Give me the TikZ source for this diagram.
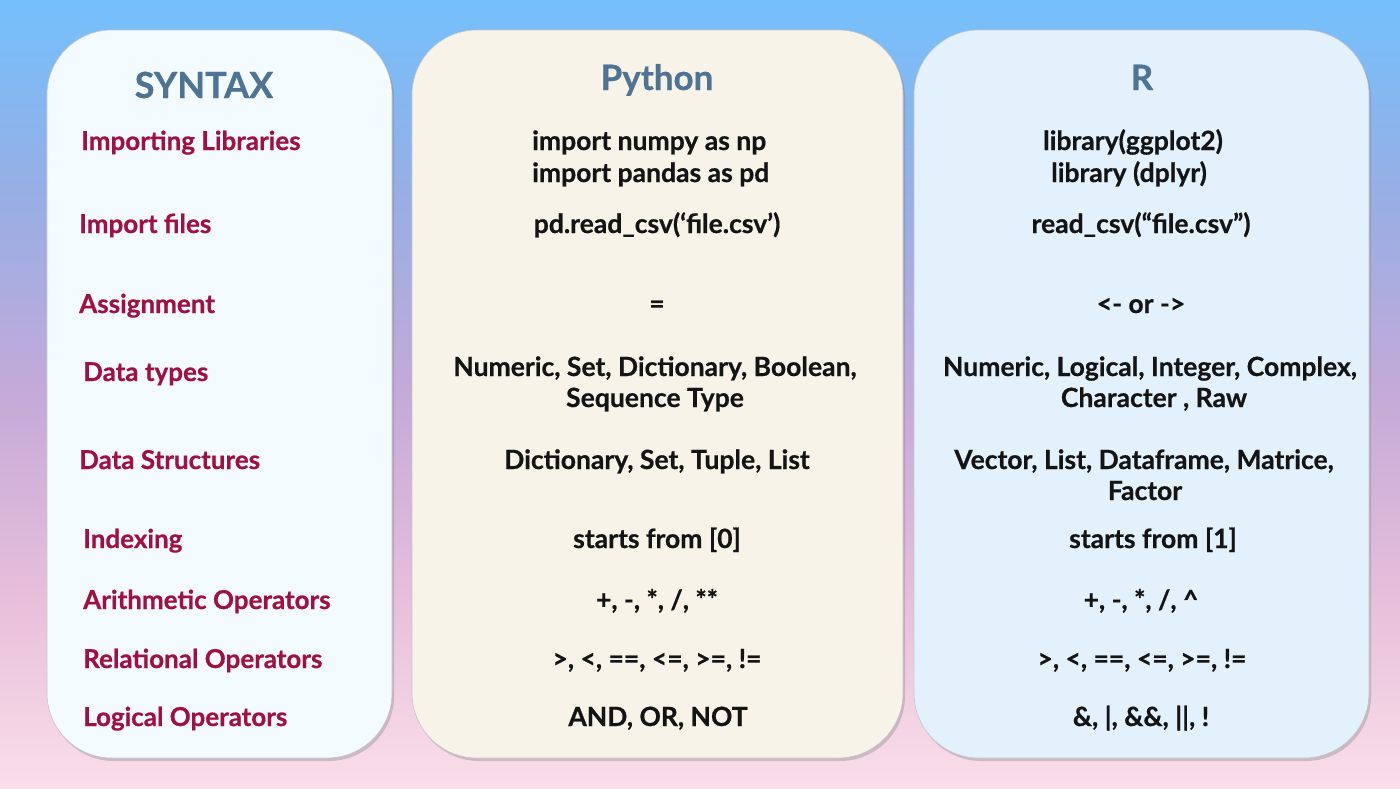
\documentclass[tikz,border=0pt]{standalone}
\usepackage{fontspec}
\setmainfont{Lato}[BoldFeatures={FakeBold=0.6}]
\usepackage{tikz}
\usetikzlibrary{shadows}

\definecolor{bgtop}{RGB}{116,192,252}
\definecolor{bghigh}{RGB}{152,174,228}
\definecolor{bgmid}{RGB}{196,170,216}
\definecolor{bglow}{RGB}{230,190,218}
\definecolor{bgbot}{RGB}{250,222,233}
\definecolor{headblue}{RGB}{79,115,147}
\definecolor{lblred}{RGB}{160,16,64}
\definecolor{syntaxfill}{RGB}{244,251,255}
\definecolor{pyfill}{RGB}{247,243,233}
\definecolor{rfill}{RGB}{227,241,253}

\pgfdeclareverticalshading{bgfade}{100bp}{color(0bp)=(bgbot); color(25bp)=(bgbot); color(37.5bp)=(bglow); color(50bp)=(bgmid); color(62.5bp)=(bghigh); color(75bp)=(bgtop); color(100bp)=(bgtop)}

\tikzset{
  panel/.style={rounded corners=65pt, draw=black!22, line width=0.6pt,
    drop shadow={shadow xshift=2pt, shadow yshift=-3pt, opacity=0.35}},
  head/.style={anchor=base, inner sep=0pt, text=headblue, font=\fontsize{35}{40}\selectfont\bfseries},
  lbl/.style={anchor=base west, inner sep=0pt, text=lblred, font=\fontsize{26}{30}\selectfont\bfseries},
  cell/.style={anchor=base, inner sep=0pt, text=black!92, font=\fontsize{26.5}{30}\selectfont\bfseries}
}

\begin{document}
\begin{tikzpicture}[x=1pt, y=-1pt]
\useasboundingbox (0,0) rectangle (1400,788);
\shade[shading=bgfade] (0,0) rectangle (1400,788);

\draw[panel, fill=syntaxfill] (47,30) rectangle (392,758);
\draw[panel, fill=pyfill] (412,30) rectangle (903,758);
\draw[panel, fill=rfill] (914,30) rectangle (1369,758);

\node[head, font=\fontsize{36}{40}\selectfont\bfseries] (syntaxhead) at (204,98) {SYNTAX};
\node[head] (pyhead) at (657,90) {Python};
\node[head] (rhead) at (1142,90) {R};

\node[lbl] (lblimport) at (81,150) {Importing Libraries};
\node[lbl] (lblfiles) at (79,233) {Import files};
\node[lbl] (lblassign) at (79,313) {Assignment};
\node[lbl] (lbltypes) at (83,381) {Data types};
\node[lbl] (lblstruct) at (79,469) {Data Structures};
\node[lbl] (lblindex) at (83,548) {Indexing};
\node[lbl] (lblarith) at (83,609) {Arithmetic Operators};
\node[lbl] (lblrel) at (83,668) {Relational Operators};
\node[lbl] (lbllogic) at (83,726) {Logical Operators};

\node[cell, anchor=base west] (pyimporta) at (532,150) {import numpy as np};
\node[cell, anchor=base west] (pyimportb) at (532,182) {import pandas as pd};
\node[cell] (pyfiles) at (657,233) {pd.read\_csv(‘file.csv’)};
\node[cell] (pyassign) at (657,313) {=};
\node[cell] (pytypesa) at (655,376) {Numeric, Set, Dictionary, Boolean,};
\node[cell] (pytypesb) at (655,407) {Sequence Type};
\node[cell] (pystruct) at (657,469) {Dictionary, Set, Tuple, List};
\node[cell] (pyindex) at (657,548) {starts from [0]};
\node[cell] (pyarith) at (657,609) {+, -, *, /, **};
\node[cell] (pyrel) at (657,668) {>, <, ==, <=, >=, !=};
\node[cell] (pylogic) at (658,726) {AND, OR, NOT};

\node[cell] (rimporta) at (1133,150) {library(ggplot2)};
\node[cell] (rimportb) at (1129,182) {library (dplyr)};
\node[cell] (rfiles) at (1141,233) {read\_csv(“file.csv”)};
\node[cell] (rassign) at (1141,313) {<- or ->};
\node[cell] (rtypesa) at (1150,376) {Numeric, Logical, Integer, Complex,};
\node[cell] (rtypesb) at (1154,407) {Character , Raw};
\node[cell] (rstructa) at (1144,469) {Vector, List, Dataframe, Matrice,};
\node[cell] (rstructb) at (1145,500) {Factor};
\node[cell] (rindex) at (1153,548) {starts from [1]};
\node[cell] (rarith) at (1141,609) {+, -, *, /, \textasciicircum};
\node[cell] (rrel) at (1142,668) {>, <, ==, <=, >=, !=};
\node[cell] (rlogic) at (1141,726) {\&, |, \&\&, ||, !};
\end{tikzpicture}
\end{document}
